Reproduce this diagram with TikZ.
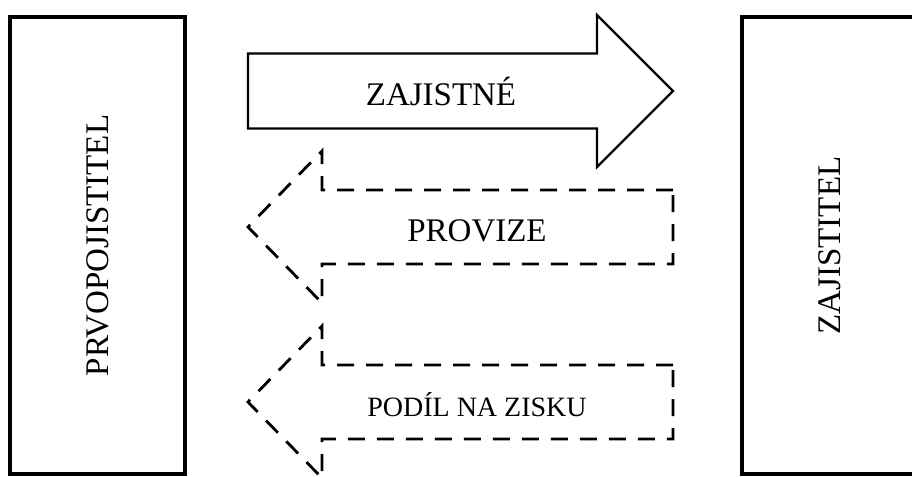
\documentclass[tikz,border=0pt]{standalone}
\usepackage{fontspec}
\setmainfont{Liberation Serif}

\begin{document}
\begin{tikzpicture}[
    x=0.5pt, y=-0.5pt,
    partybox/.style={rectangle, draw, line width=1.8pt, rotate=90,
                minimum width=228.5pt, minimum height=87.5pt,
                font=\fontsize{16.5}{20}\selectfont},
    blockarrow/.style={draw, line width=1.2pt, line join=miter},
    backarrow/.style={blockarrow, line width=1.4pt, dash pattern=on 8.5pt off 6pt},
    lbl/.style={anchor=base, inner sep=0pt, font=\fontsize{16.5}{20}\selectfont}
  ]
    \useasboundingbox (0,0) rectangle (912,477);
    \clip (0,0) rectangle (912,477);
    % the two parties
    \node[partybox] (cedent) at (97.5,245.5) {PRVOPOJISTITEL};
    \node[partybox] (reins) at (829.5,245.5) {ZAJISTITEL};
    % premium to the reinsurer
    \draw[blockarrow] (248,53.5) -- (597,53.5) -- (597,15) -- (673,91)
      -- (597,167) -- (597,128.5) -- (248,128.5) -- cycle;
    \node[lbl] (premium) at (441,105) {ZAJISTNÉ};
    % flows back to the cedent
    \foreach \cy/\nm/\txt/\fs in {227/commission/PROVIZE/16.5, 402/share/PODÍL NA ZISKU/14}{
      \draw[backarrow] (673,\cy-37) -- (322,\cy-37) -- (322,\cy-76) -- (248,\cy)
        -- (322,\cy+76) -- (322,\cy+37) -- (673,\cy+37) -- cycle;
      \node[lbl, font=\fontsize{\fs}{18}\selectfont] (\nm) at (477,\cy+14) {\txt};
    }
\end{tikzpicture}
\end{document}
